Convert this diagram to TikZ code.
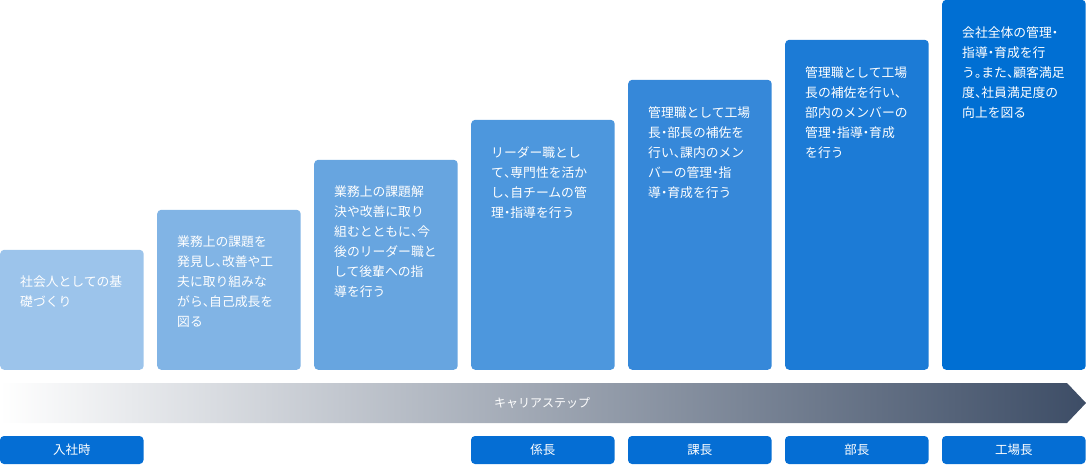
\documentclass[tikz,border=0pt]{standalone}
\usepackage{fontspec}
\newfontfamily\jp{Noto Sans CJK JP}
\newfontfamily\jph[RawFeature=+halt]{Noto Sans CJK JP}
\newcommand\jcomma{{\jph 、}}
\newcommand\jperiod{{\jph 。}}
\newcommand\jdot{{\jph ・}}
\definecolor{cA}{RGB}{156,196,235}
\definecolor{cB}{RGB}{129,180,229}
\definecolor{cC}{RGB}{103,165,224}
\definecolor{cD}{RGB}{77,151,221}
\definecolor{cE}{RGB}{54,136,217}
\definecolor{cF}{RGB}{28,123,214}
\definecolor{cG}{RGB}{0,111,211}
\definecolor{rankblue}{RGB}{5,110,212}
\definecolor{banddark}{RGB}{61,77,102}
\tikzset{
  stepbox/.style={rounded corners=4pt, inner sep=0pt, draw=none, minimum width=143.5pt, anchor=south west},
  boxtext/.style={anchor=north west, inner sep=0pt, align=left, text=white, font=\jp\fontsize{12.8}{20}\selectfont},
  rankbox/.style={rounded corners=4pt, inner sep=0pt, fill=rankblue, minimum width=143.5pt, minimum height=28pt, text=white, font=\jp\fontsize{12.5}{15}\selectfont},
}
\begin{document}
\begin{tikzpicture}[x=1pt,y=-1pt]
\useasboundingbox (0,0) rectangle (1086,464);
% step boxes
\node[stepbox, fill=cA, minimum height=120pt] (b1) at (0,370) {};
\node[stepbox, fill=cB, minimum height=160pt] (b2) at (157,370) {};
\node[stepbox, fill=cC, minimum height=210pt] (b3) at (314,370) {};
\node[stepbox, fill=cD, minimum height=250pt] (b4) at (471,370) {};
\node[stepbox, fill=cE, minimum height=290pt] (b5) at (628,370) {};
\node[stepbox, fill=cF, minimum height=330pt] (b6) at (785,370) {};
\node[stepbox, fill=cG, minimum height=370pt] (b7) at (942,370) {};
% texts
\node[boxtext] (t1) at (20,276) {社会人としての基\\礎づくり};
\node[boxtext] (t2) at (177,236) {業務上の課題を\\発見し\jcomma 改善や工\\夫に取り組みな\\がら\jcomma 自己成長を\\図る};
\node[boxtext] (t3) at (334,186) {業務上の課題解\\決や改善に取り\\組むとともに\jcomma 今\\後のリーダー職と\\して後輩への指\\導を行う};
\node[boxtext] (t4) at (491,146) {リーダー職とし\\て\jcomma 専門性を活か\\し\jcomma 自チームの管\\理\jdot 指導を行う};
\node[boxtext] (t5) at (648,106) {管理職として工場\\長\jdot 部長の補佐を\\行い\jcomma 課内のメン\\バーの管理\jdot 指\\導\jdot 育成を行う};
\node[boxtext] (t6) at (805,66) {管理職として工場\\長の補佐を行い\jcomma\\部内のメンバーの\\管理\jdot 指導\jdot 育成\\を行う};
\node[boxtext] (t7) at (962,26) {会社全体の管理\jdot\\指導\jdot 育成を行\\う\jperiod また\jcomma 顧客満足\\度\jcomma 社員満足度の\\向上を図る};
% career band
\shade[left color=white, right color=banddark]
  (0,383) -- (1067,383) -- (1086,403) -- (1067,423) -- (0,423) -- cycle;
\node[text=white, font=\jp\fontsize{12}{14}\selectfont, inner sep=0pt] (band) at (542,403) {キャリアステップ};
% rank labels
\node[rankbox] (r1) at (71.75,450) {入社時};
\node[rankbox] (r4) at (542.75,450) {係長};
\node[rankbox] (r5) at (699.75,450) {課長};
\node[rankbox] (r6) at (856.75,450) {部長};
\node[rankbox] (r7) at (1013.75,450) {工場長};
\end{tikzpicture}
\end{document}
